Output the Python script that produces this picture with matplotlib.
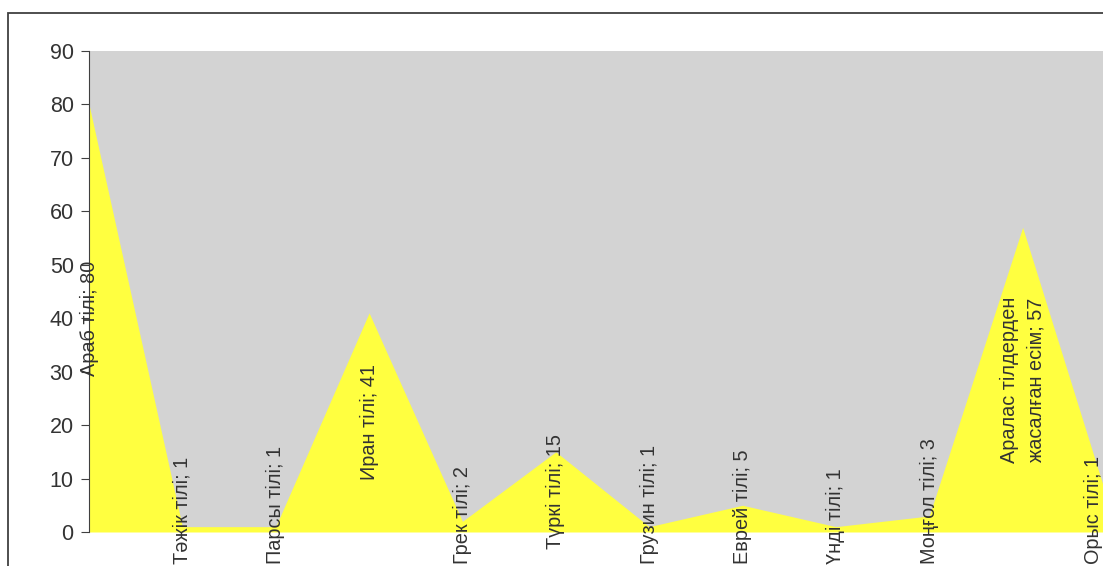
import matplotlib.pyplot as plt
from matplotlib.patches import Rectangle

plt.rcParams['font.family'] = ['Liberation Sans', 'DejaVu Sans']

# данные
categories = ['Араб тілі', 'Тәжік тілі', 'Парсы тілі', 'Иран тілі', 'Грек тілі',
              'Түркі тілі', 'Грузин тілі', 'Еврей тілі', 'Үнді тілі', 'Моңғол тілі',
              'Аралас тілдерден\nжасалған есім', 'Орыс тілі']
values = [80, 1, 1, 41, 2, 15, 1, 5, 1, 3, 57, 1]
yticks = [0, 10, 20, 30, 40, 50, 60, 70, 80, 90]

W, H = 1103, 566
fig = plt.figure(figsize=(W / 100, H / 100), dpi=100)

# рамка диаграммы
fig.patches.append(Rectangle((8 / W, -0.1), 1.2, 1 - 12.5 / H + 0.1,
                             transform=fig.transFigure, fill=False,
                             edgecolor='#404040', linewidth=1.3))

ax = fig.add_axes([89 / W, (H - 532) / H, (1116 - 89) / W, (532 - 51) / H])
ax.set_facecolor('#D3D3D3')
x = list(range(len(values)))
ax.fill_between(x, values, 0, color='#FFFF40', linewidth=0)
ax.set_xlim(0, len(values) - 1)
ax.set_ylim(0, 90)
ax.set_yticks(yticks)
ax.set_xticks([])
for s in ['top', 'right', 'bottom']:
    ax.spines[s].set_visible(False)
ax.spines['left'].set_color('#404040')
ax.tick_params(axis='y', direction='out', length=6, color='#404040',
               labelsize=15.5, labelcolor='#333333', pad=5)

texts = []
for i, (c, v) in enumerate(zip(categories, values)):
    t = ax.text(i, v / 2, c + '; ' + str(v), rotation=90, ha='center', va='center',
                fontsize=14.3, color='#333333', linespacing=1.5, clip_on=False)
    texts.append(t)

# подписи держим внутри области диаграммы
fig.canvas.draw()
r = fig.canvas.get_renderer()
inv = ax.transData.inverted()
for t in texts:
    bb = t.get_window_extent(r)
    dx = 0
    dy = 0
    if bb.y0 < 2:
        dy = 2 - bb.y0
    if bb.x1 > W:
        dx = W - bb.x1
    if dx or dy:
        px, py = ax.transData.transform(t.get_position())
        t.set_position(inv.transform((px + dx, py + dy)))

fig.savefig('out.png', dpi=100)
